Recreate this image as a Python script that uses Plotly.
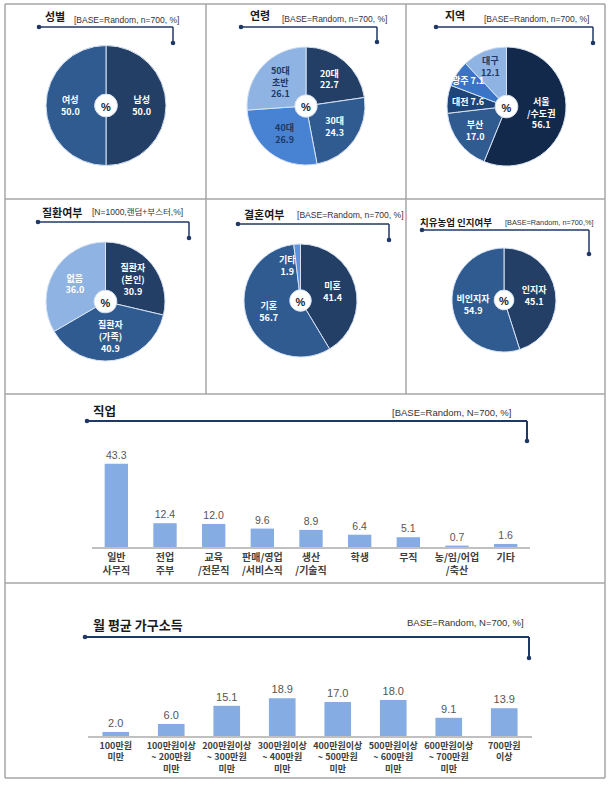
import math
import plotly.graph_objects as go

W, H = 615, 785

# ---------------- data ----------------
sex_labels = ["남성", "여성"]
sex_values = [50.0, 50.0]
sex_sep = ["<br>", "<br>"]

age_labels = ["20대", "30대", "40대", "50대<br>초반"]
age_values = [22.7, 24.3, 26.9, 26.1]
age_sep = ["<br>", "<br>", "<br>", "<br>"]

region_labels = ["서울<br>/수도권", "부산", "대전", "광주", "대구"]
region_values = [56.1, 17.0, 7.6, 7.1, 12.1]
region_sep = ["<br>", "<br>", " ", " ", "<br>"]

disease_labels = ["질환자<br>(본인)", "질환자<br>(가족)", "없음"]
disease_values = [30.9, 40.9, 36.0]
disease_sep = ["<br>", "<br>", "<br>"]

marriage_labels = ["미혼", "기혼", "기타"]
marriage_values = [41.4, 56.7, 1.9]
marriage_sep = ["<br>", "<br>", "<br>"]

aware_labels = ["인지자", "비인지자"]
aware_values = [45.1, 54.9]
aware_sep = ["<br>", "<br>"]

job_labels = ["일반<br>사무직", "전업<br>주부", "교육<br>/전문직", "판매/영업<br>/서비스직",
              "생산<br>/기술직", "학생", "무직", "농/임/어업<br>/축산", "기타"]
job_values = [43.3, 12.4, 12.0, 9.6, 8.9, 6.4, 5.1, 0.7, 1.6]

income_labels = ["100만원<br>미만", "100만원이상<br>~ 200만원<br>미만", "200만원이상<br>~ 300만원<br>미만",
                 "300만원이상<br>~ 400만원<br>미만", "400만원이상<br>~ 500만원<br>미만",
                 "500만원이상<br>~ 600만원<br>미만", "600만원이상<br>~ 700만원<br>미만", "700만원<br>이상"]
income_values = [2.0, 6.0, 15.1, 18.9, 17.0, 18.0, 9.1, 13.9]

# ---------------- styles ----------------
FONT = "Liberation Sans, Noto Sans CJK KR, sans-serif"
KR = "Noto Sans CJK KR, sans-serif"
NAVY = "#1f3864"
C_DARKEST = "#13294b"
C_DARK = "#243f66"
C_MED = "#2f5b91"
C_MID2 = "#1f4479"
C_BRIGHT = "#4783d2"
C_LIGHT = "#8fb4e3"
C_OTHER = "#5b93de"
BAR = "#86ade3"


def fx(x):
    return x / W


def fy(y):
    return 1 - y / H


def make_text(labels, values, seps):
    return [f"{l}{s}{v:.1f}" for l, v, s in zip(labels, values, seps)]


fig = go.Figure()
annotations = []

pies = [
    # labels, values, seps, colors, text colors, (cx, cy, r), slices labelled outside plotly's placement {idx: (radius frac, xanchor)}
    (sex_labels, sex_values, sex_sep, [C_DARK, C_MED], ["white", "white"], (106, 105.5, 60), {}),
    (age_labels, age_values, age_sep, [C_DARK, C_MED, C_BRIGHT, C_LIGHT],
     ["white", "white", NAVY, NAVY], (306, 106, 59), {}),
    (region_labels, region_values, region_sep, [C_DARKEST, C_MED, C_MID2, "#3a74c6", C_LIGHT],
     ["white", "white", "white", "white", NAVY], (506.5, 106.5, 59.5), {2: (0.66, "center"), 3: (0.78, "center")}),
    (disease_labels, disease_values, disease_sep, [C_DARK, C_MED, C_LIGHT],
     ["white", "white", "white"], (105.5, 301.5, 59.5), {}),
    (marriage_labels, marriage_values, marriage_sep, [C_DARK, C_MED, C_OTHER],
     ["white", "white", "white"], (300.5, 300.5, 56.5), {2: (0.62, "right")}),
    (aware_labels, aware_values, aware_sep, [C_DARK, C_MED], ["white", "white"], (504, 300, 52), {}),
]

for labels, values, seps, colors, tcolors, (cx, cy, r), special in pies:
    texts = make_text(labels, values, seps)
    positions = ["none" if i in special else "inside" for i in range(len(values))]
    fig.add_trace(go.Pie(
        labels=[l.replace("<br>", " ") for l in labels],
        values=values,
        text=texts,
        textinfo="text",
        textposition=positions,
        insidetextorientation="horizontal",
        textfont=dict(family=KR, size=9, color=tcolors, weight="bold"),
        marker=dict(colors=colors, line=dict(color="#d6e2f2", width=1)),
        hole=0.19,
        sort=False,
        direction="clockwise",
        rotation=0,
        showlegend=False,
        hoverinfo="label+value",
        title=dict(text="<b>%</b>", font=dict(family=FONT, size=11, color="#222222"),
                   position="middle center"),
        domain=dict(x=[fx(cx - r), fx(cx + r)], y=[fy(cy + r), fy(cy - r)]),
    ))
    # labels for thin slices, positioned from the slice's mid-angle
    total = sum(values)
    cum = 0.0
    for i, v in enumerate(values):
        mid = (cum + v / 2) / total
        cum += v
        if i in special:
            k, anchor = special[i]
            th = 2 * math.pi * mid
            px = cx + r * k * math.sin(th)
            py = cy - r * k * math.cos(th)
            annotations.append(dict(xref="paper", yref="paper", x=fx(px), y=fy(py), text=texts[i],
                                    showarrow=False, xanchor=anchor, yanchor="middle",
                                    font=dict(family=KR, size=9, color=tcolors[i], weight="bold")))

# ---------------- bar charts ----------------
fig.add_trace(go.Bar(
    x=job_labels, y=job_values, marker=dict(color=BAR, line=dict(width=0)),
    texttemplate="%{y:.1f}", textposition="outside", cliponaxis=False,
    textfont=dict(family=FONT, size=10.5, color="#555555"),
    xaxis="x", yaxis="y", showlegend=False,
))
fig.add_trace(go.Bar(
    x=income_labels, y=income_values, marker=dict(color=BAR, line=dict(width=0)),
    texttemplate="%{y:.1f}", textposition="outside", cliponaxis=False,
    textfont=dict(family=FONT, size=11, color="#555555"),
    xaxis="x2", yaxis="y2", showlegend=False,
))

# ---------------- frame & brackets ----------------
shapes = []
BORDER = "#a6a6a6"


def hline(x0, x1, y, color=BORDER, width=1.5):
    shapes.append(dict(type="line", xref="paper", yref="paper", x0=fx(x0), x1=fx(x1),
                       y0=fy(y), y1=fy(y), line=dict(color=color, width=width)))


def vline(x, y0, y1, color=BORDER, width=1.5):
    shapes.append(dict(type="line", xref="paper", yref="paper", x0=fx(x), x1=fx(x),
                       y0=fy(y0), y1=fy(y1), line=dict(color=color, width=width)))


def dot(x, y, r=2.3, color=NAVY):
    shapes.append(dict(type="circle", xref="paper", yref="paper", x0=fx(x - r), x1=fx(x + r),
                       y0=fy(y + r), y1=fy(y - r), fillcolor=color, line=dict(width=0)))


# outer frame
hline(5, 605, 4)
hline(5, 605, 778)
vline(5, 4, 778)
vline(605, 4, 778)
hline(5, 605, 199)
hline(5, 605, 394)
hline(5, 605, 583)
vline(206, 4, 394)
vline(406, 4, 394)


def bracket(x0, x1, y, y_end, title, title_x, title_y, title_size, base, base_x, base_y, base_size, lw=1.5):
    hline(x0, x1, y, color=NAVY, width=lw)
    vline(x1, y, y_end, color=NAVY, width=lw)
    dot(x0, y)
    dot(x1, y_end)
    annotations.append(dict(xref="paper", yref="paper", x=fx(title_x), y=fy(title_y),
                            text=f"<b>{title}</b>", showarrow=False, xanchor="left", yanchor="middle",
                            font=dict(family=KR, size=title_size, color="#1a1a1a")))
    annotations.append(dict(xref="paper", yref="paper", x=fx(base_x), y=fy(base_y),
                            text=base, showarrow=False, xanchor="left", yanchor="middle",
                            font=dict(family=FONT, size=base_size, color="#333333")))


bracket(39, 173, 27, 43, "성별", 43, 16, 11, "[BASE=Random, n=700, %]", 72, 20, 8.5)
bracket(241, 377, 27, 42, "연령", 248, 15, 11, "[BASE=Random, n=700, %]", 280, 19, 8.5)
bracket(436, 593, 27, 43, "지역", 443, 15, 11, "[BASE=Random, n=700, %]", 482, 19, 8.5)
bracket(38, 189, 222, 238, "질환여부", 40, 212, 11, "[N=1000,랜덤+부스터,%]", 90, 212, 8.5)
bracket(238, 389, 224, 240, "결혼여부", 242, 214, 11, "[BASE=Random, n=700, %]", 295, 215, 8.6)
bracket(422, 589, 230, 254, "치유농업 인지여부", 418, 222, 9.5, "[BASE=Random, n=700,%]", 503, 223, 7.3)
bracket(87, 527, 421, 441, "직업", 91, 410, 12.5, "[BASE=Random, N=700, %]", 390, 412, 9.5, lw=2)
bracket(85, 529, 637, 658, "월 평균 가구소득", 91, 624, 13, "BASE=Random, N=700, %]", 405, 622, 9.5, lw=2)

fig.update_layout(
    width=W, height=H,
    margin=dict(l=0, r=0, t=0, b=0),
    paper_bgcolor="white", plot_bgcolor="white",
    font=dict(family=FONT),
    showlegend=False,
    uniformtext=dict(minsize=9, mode="show"),
    bargap=0.52,
    shapes=shapes,
    annotations=annotations,
    xaxis=dict(domain=[fx(92), fx(530)], anchor="y", showline=True, linecolor="#c0c0c0", linewidth=1.5,
               ticks="", showgrid=False, zeroline=False, fixedrange=True,
               tickfont=dict(family=KR, size=10, color="#404040", weight="bold")),
    yaxis=dict(domain=[fy(547), fy(460.6)], range=[0, 45], visible=False, fixedrange=True),
    xaxis2=dict(domain=[fx(88), fx(532)], anchor="y2", showline=True, linecolor="#c0c0c0", linewidth=1.5,
                ticks="", showgrid=False, zeroline=False, fixedrange=True,
                tickfont=dict(family=KR, size=9, color="#404040", weight="bold")),
    yaxis2=dict(domain=[fy(736), fy(692)], range=[0, 22], visible=False, fixedrange=True),
)

fig.write_html("out.html")
